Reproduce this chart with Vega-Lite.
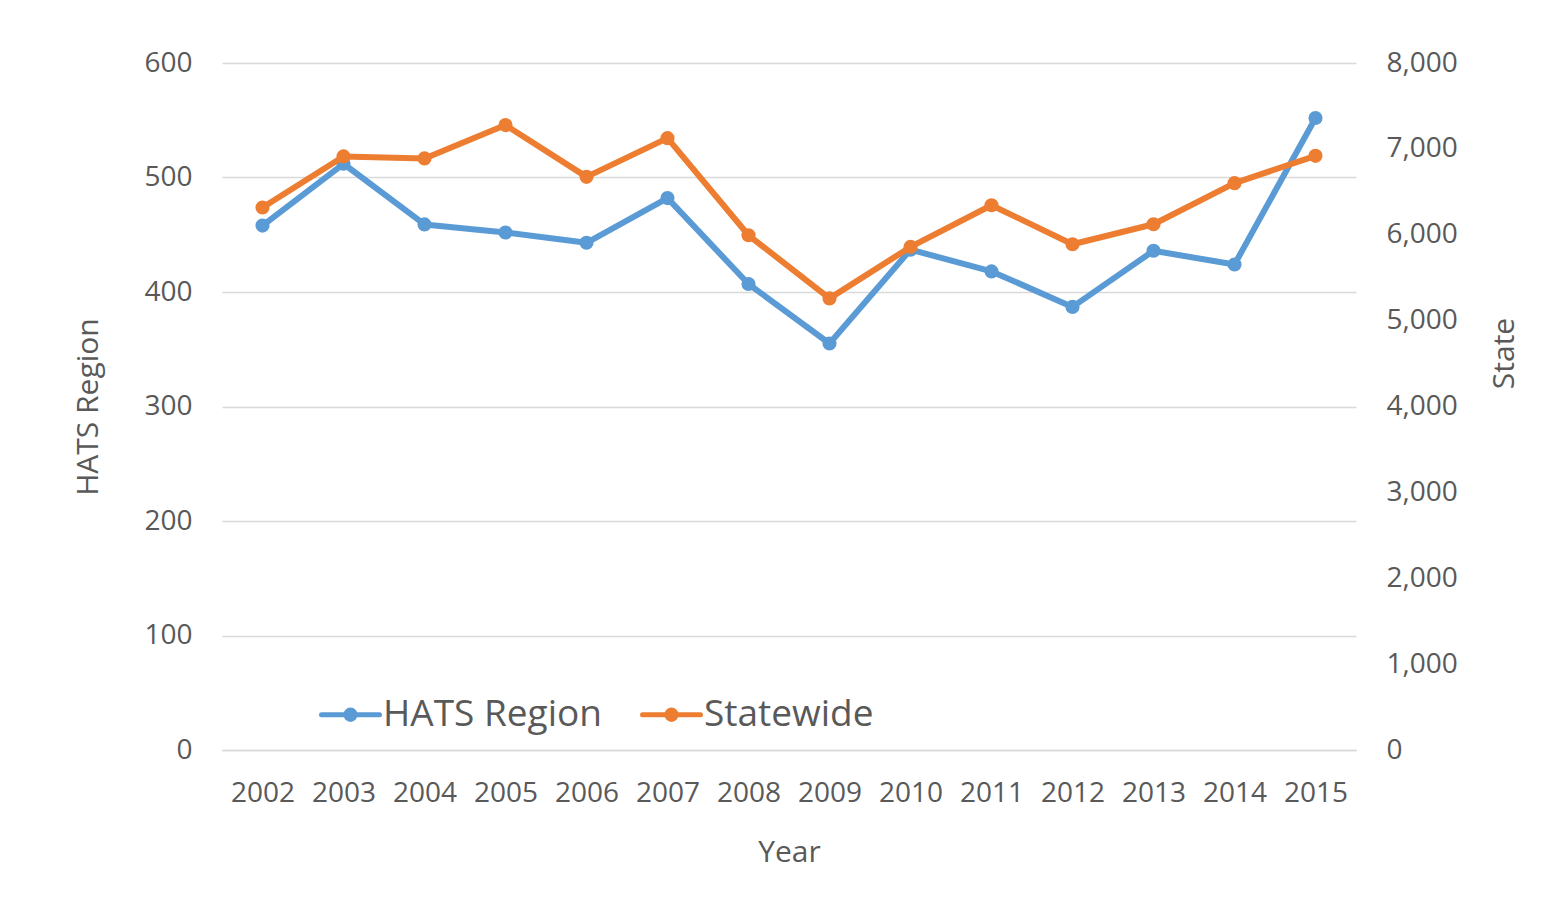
{
  "$schema": "https://vega.github.io/schema/vega-lite/v6.json",
  "width": 1134,
  "height": 687,
  "autosize": {"type": "none"},
  "padding": {"left": 222, "top": 63, "right": 194, "bottom": 174},
  "background": "white",
  "config": {
    "view": {"stroke": null},
    "font": "Open Sans",
    "axis": {
      "labelColor": "#595959",
      "titleColor": "#595959",
      "labelFont": "Open Sans",
      "titleFont": "Open Sans",
      "labelFontSize": 28,
      "titleFontSize": 30,
      "titleFontWeight": "normal",
      "ticks": false,
      "domain": false,
      "gridColor": "#D9D9D9",
      "gridWidth": 1.5
    },
    "legend": {
      "labelFont": "Open Sans",
      "labelFontSize": 37,
      "labelColor": "#595959",
      "labelLimit": 500
    }
  },
  "data": {
    "values": [
      {"Year": "2002", "Series": "HATS Region", "Value": 458},
      {"Year": "2003", "Series": "HATS Region", "Value": 512},
      {"Year": "2004", "Series": "HATS Region", "Value": 459},
      {"Year": "2005", "Series": "HATS Region", "Value": 452},
      {"Year": "2006", "Series": "HATS Region", "Value": 443},
      {"Year": "2007", "Series": "HATS Region", "Value": 482},
      {"Year": "2008", "Series": "HATS Region", "Value": 407},
      {"Year": "2009", "Series": "HATS Region", "Value": 355},
      {"Year": "2010", "Series": "HATS Region", "Value": 437},
      {"Year": "2011", "Series": "HATS Region", "Value": 418},
      {"Year": "2012", "Series": "HATS Region", "Value": 387},
      {"Year": "2013", "Series": "HATS Region", "Value": 436},
      {"Year": "2014", "Series": "HATS Region", "Value": 424},
      {"Year": "2015", "Series": "HATS Region", "Value": 552},
      {"Year": "2002", "Series": "Statewide", "Value": 6317},
      {"Year": "2003", "Series": "Statewide", "Value": 6912},
      {"Year": "2004", "Series": "Statewide", "Value": 6889},
      {"Year": "2005", "Series": "Statewide", "Value": 7277},
      {"Year": "2006", "Series": "Statewide", "Value": 6674},
      {"Year": "2007", "Series": "Statewide", "Value": 7125},
      {"Year": "2008", "Series": "Statewide", "Value": 5994},
      {"Year": "2009", "Series": "Statewide", "Value": 5259},
      {"Year": "2010", "Series": "Statewide", "Value": 5858},
      {"Year": "2011", "Series": "Statewide", "Value": 6344},
      {"Year": "2012", "Series": "Statewide", "Value": 5889},
      {"Year": "2013", "Series": "Statewide", "Value": 6122},
      {"Year": "2014", "Series": "Statewide", "Value": 6601},
      {"Year": "2015", "Series": "Statewide", "Value": 6919}
    ]
  },
  "encoding": {
    "x": {
      "field": "Year",
      "type": "ordinal",
      "scale": {"type": "point", "padding": 0.5},
      "axis": {
        "labelAngle": 0,
        "labelPadding": 29,
        "title": "Year",
        "titlePadding": 30,
        "domain": true,
        "domainColor": "#D9D9D9",
        "domainWidth": 1.5,
        "grid": false
      }
    },
    "color": {
      "field": "Series",
      "type": "nominal",
      "scale": {"domain": ["HATS Region", "Statewide"], "range": ["#5B9BD5", "#ED7D31"]},
      "legend": {
        "title": null,
        "orient": "none",
        "direction": "horizontal",
        "legendX": 97,
        "legendY": 620,
        "symbolType": "M-1,0L1,0M0.16,0A0.16,0.16,0,1,1,-0.16,0A0.16,0.16,0,1,1,0.16,0Z",
        "symbolSize": 3364,
        "symbolStrokeWidth": 5,
        "labelOffset": 1,
        "columnPadding": 30,
        "encode": {
          "symbols": {
            "update": {
              "fill": {"scale": "color", "field": "value"},
              "stroke": {"scale": "color", "field": "value"},
              "strokeCap": {"value": "round"},
              "opacity": {"value": 1}
            }
          }
        }
      }
    }
  },
  "layer": [
    {
      "transform": [{"filter": "datum.Series === 'HATS Region'"}],
      "encoding": {
        "y": {
          "field": "Value",
          "type": "quantitative",
          "scale": {"domain": [0, 600]},
          "axis": {
            "title": "HATS Region",
            "values": [0, 100, 200, 300, 400, 500, 600],
            "labelPadding": 30,
            "titlePadding": 40,
            "grid": true
          }
        }
      },
      "layer": [
        {"mark": {"type": "line", "strokeWidth": 6, "strokeCap": "round", "strokeJoin": "round"}},
        {"mark": {"type": "point", "filled": true, "size": 200, "opacity": 1}}
      ]
    },
    {
      "transform": [{"filter": "datum.Series === 'Statewide'"}],
      "encoding": {
        "y": {
          "field": "Value",
          "type": "quantitative",
          "scale": {"domain": [0, 8000]},
          "axis": {
            "orient": "right",
            "title": "State",
            "titleAngle": -90,
            "titleY": 290,
            "format": ",.0f",
            "values": [0, 1000, 2000, 3000, 4000, 5000, 6000, 7000, 8000],
            "labelPadding": 30,
            "titlePadding": 62,
            "grid": false
          }
        }
      },
      "layer": [
        {"mark": {"type": "line", "strokeWidth": 6, "strokeCap": "round", "strokeJoin": "round"}},
        {"mark": {"type": "point", "filled": true, "size": 200, "opacity": 1}}
      ]
    }
  ],
  "resolve": {"scale": {"y": "independent"}}
}
